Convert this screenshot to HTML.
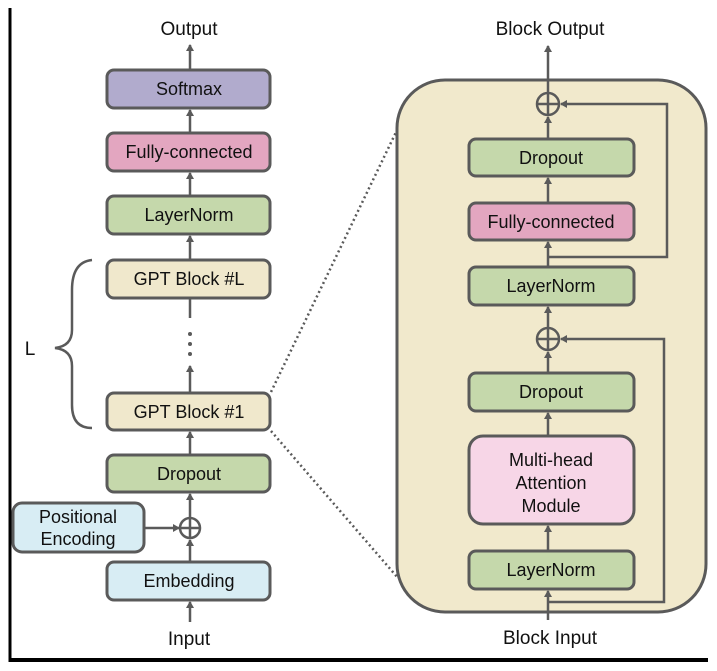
<!DOCTYPE html>
<html><head><meta charset="utf-8"><style>
html,body{margin:0;padding:0;background:#fff;}
svg{display:block;}
text{font-family:"Liberation Sans","DejaVu Sans",sans-serif;fill:#111;}
</style></head><body>
<svg width="717" height="671" viewBox="0 0 717 671" xmlns="http://www.w3.org/2000/svg">
<defs>
<marker id="a" markerWidth="8" markerHeight="8" refX="6" refY="4" orient="auto" markerUnits="userSpaceOnUse">
<path d="M0,0 L7,4 L0,8 z" fill="#5a5a5a"/></marker>
</defs>
<line x1="10" y1="8" x2="10" y2="662" stroke="#000" stroke-width="3"/>
<line x1="9" y1="660" x2="708" y2="660" stroke="#000" stroke-width="4"/>
<g stroke="#5a5a5a" stroke-width="3">
<line x1="271" y1="392" x2="398" y2="128" stroke-dasharray="2,3" stroke-width="2.5"/>
<line x1="271" y1="431" x2="398" y2="578" stroke-dasharray="2,3" stroke-width="2.5"/>
<rect x="397" y="80" width="309" height="532" rx="48" fill="#f1e9cc"/>
</g>
<g stroke="#5a5a5a" stroke-width="2.5" fill="none">
<line x1="190" y1="70" x2="190" y2="45" marker-end="url(#a)"/>
<line x1="190" y1="133" x2="190" y2="110" marker-end="url(#a)"/>
<line x1="190" y1="196" x2="190" y2="173" marker-end="url(#a)"/>
<line x1="190" y1="260" x2="190" y2="236" marker-end="url(#a)"/>
<line x1="190" y1="298" x2="190" y2="318"/>
<line x1="190" y1="393" x2="190" y2="366" marker-end="url(#a)"/>
<line x1="190" y1="455" x2="190" y2="432" marker-end="url(#a)"/>
<line x1="190" y1="518" x2="190" y2="494" marker-end="url(#a)"/>
<line x1="190" y1="562" x2="190" y2="540" marker-end="url(#a)"/>
<line x1="190" y1="622" x2="190" y2="602" marker-end="url(#a)"/>
<line x1="144" y1="528" x2="179" y2="528" marker-end="url(#a)"/>
<circle cx="190" cy="528" r="10"/>
<line x1="180" y1="528" x2="200" y2="528"/>
<line x1="190" y1="518" x2="190" y2="538"/>
<path d="M92,260 Q72,262 72,290 L72,330 Q72,346 55,348 Q72,350 72,366 L72,405 Q72,428 92,428"/>
<line x1="548" y1="93" x2="548" y2="46" marker-end="url(#a)"/>
<line x1="548" y1="139" x2="548" y2="117" marker-end="url(#a)"/>
<line x1="548" y1="203" x2="548" y2="178" marker-end="url(#a)"/>
<line x1="548" y1="267" x2="548" y2="242" marker-end="url(#a)"/>
<line x1="548" y1="328" x2="548" y2="307" marker-end="url(#a)"/>
<line x1="548" y1="373" x2="548" y2="352" marker-end="url(#a)"/>
<line x1="548" y1="436" x2="548" y2="413" marker-end="url(#a)"/>
<line x1="548" y1="551" x2="548" y2="526" marker-end="url(#a)"/>
<line x1="548" y1="620" x2="548" y2="591" marker-end="url(#a)"/>
<polyline points="548,257 667,257 667,104 561,104" marker-end="url(#a)"/>
<polyline points="548,602 664,602 664,339 561,339" marker-end="url(#a)"/>
<circle cx="548" cy="104" r="11"/>
<line x1="537" y1="104" x2="559" y2="104"/><line x1="548" y1="93" x2="548" y2="115"/>
<circle cx="548" cy="339" r="11"/>
<line x1="537" y1="339" x2="559" y2="339"/><line x1="548" y1="328" x2="548" y2="350"/>
</g>
<g fill="#5a5a5a"><circle cx="190" cy="334" r="2"/><circle cx="190" cy="344" r="2"/><circle cx="190" cy="354" r="2"/></g>
<g stroke="#5a5a5a" stroke-width="3">
<rect x="107" y="70" width="163" height="38" rx="7" fill="#b1abcd"/>
<rect x="107" y="133" width="163" height="38" rx="7" fill="#e3a6c0"/>
<rect x="107" y="196" width="163" height="38" rx="7" fill="#c5d8ab"/>
<rect x="107" y="260" width="163" height="38" rx="7" fill="#f0e8cc"/>
<rect x="107" y="393" width="163" height="37" rx="7" fill="#f0e8cc"/>
<rect x="107" y="455" width="163" height="37" rx="7" fill="#c5d8ab"/>
<rect x="107" y="562" width="163" height="38" rx="7" fill="#d8edf4"/>
<rect x="13" y="503" width="131" height="49" rx="9" fill="#d8edf4"/>
<rect x="469" y="139" width="165" height="37" rx="7" fill="#c5d8ab"/>
<rect x="469" y="203" width="165" height="37" rx="7" fill="#e3a6c0"/>
<rect x="469" y="267" width="165" height="38" rx="7" fill="#c5d8ab"/>
<rect x="469" y="373" width="165" height="38" rx="7" fill="#c5d8ab"/>
<rect x="469" y="436" width="165" height="88" rx="14" fill="#f7d6e7"/>
<rect x="469" y="551" width="165" height="38" rx="7" fill="#c5d8ab"/>
</g>
<g font-size="18" text-anchor="middle">
<text x="189" y="35" font-size="19">Output</text>
<text x="189" y="645" font-size="19">Input</text>
<text x="550" y="35" font-size="19">Block Output</text>
<text x="550" y="644" font-size="19">Block Input</text>
<text x="30" y="355" font-size="19">L</text>
<text x="189" y="95">Softmax</text>
<text x="189" y="158">Fully-connected</text>
<text x="189" y="221">LayerNorm</text>
<text x="189" y="285">GPT Block #L</text>
<text x="189" y="418">GPT Block #1</text>
<text x="189" y="480">Dropout</text>
<text x="189" y="587">Embedding</text>
<text x="78" y="523">Positional</text>
<text x="78" y="545">Encoding</text>
<text x="551" y="164">Dropout</text>
<text x="551" y="228">Fully-connected</text>
<text x="551" y="292">LayerNorm</text>
<text x="551" y="398">Dropout</text>
<text x="551" y="466">Multi-head</text>
<text x="551" y="489">Attention</text>
<text x="551" y="512">Module</text>
<text x="551" y="576">LayerNorm</text>
</g>
</svg>
</body></html>
